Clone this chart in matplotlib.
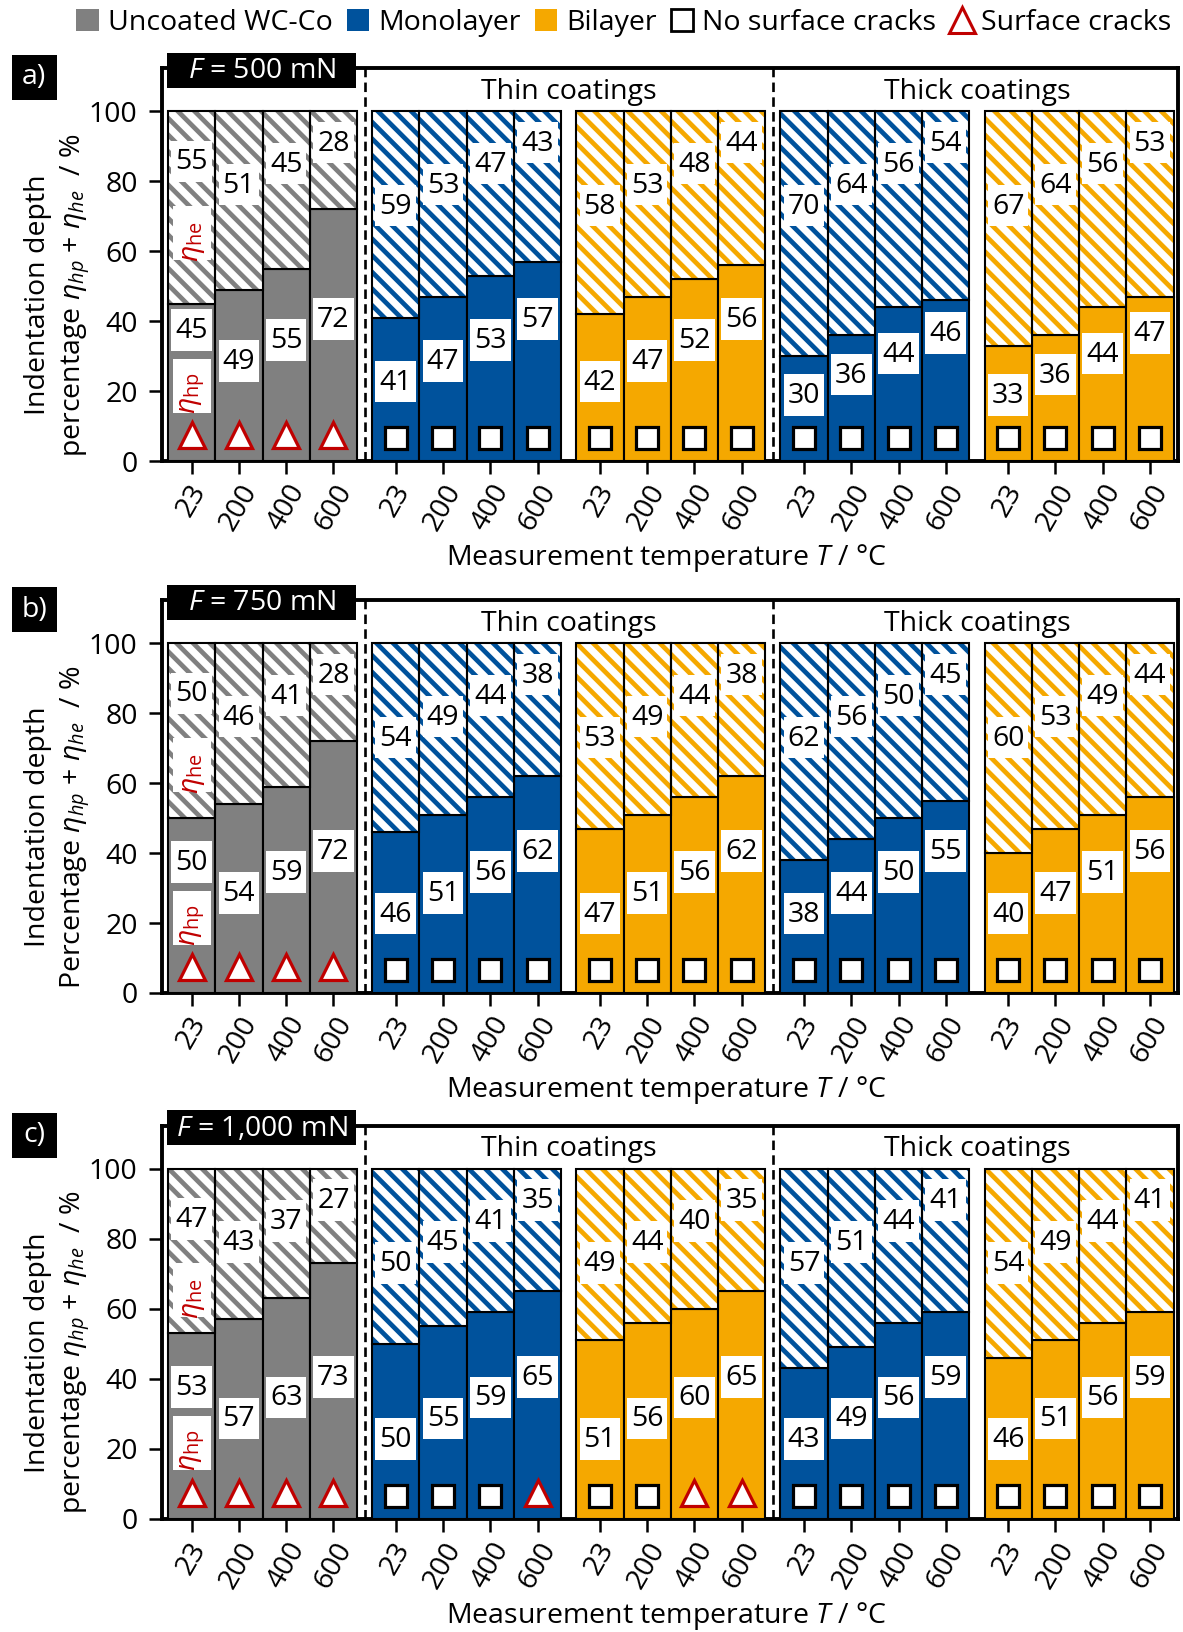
import matplotlib
matplotlib.use('Agg')
import matplotlib.pyplot as plt
from matplotlib.patches import Patch, Rectangle
from matplotlib.lines import Line2D

plt.rcParams['font.family'] = ['Open Sans', 'DejaVu Sans']
plt.rcParams['mathtext.fontset'] = 'custom'
plt.rcParams['mathtext.rm'] = 'Open Sans'
plt.rcParams['mathtext.it'] = 'Open Sans:italic'
plt.rcParams['mathtext.bf'] = 'Open Sans:bold'
plt.rcParams['hatch.linewidth'] = 3.4

# ---------------------------------------------------------------- data
temperatures = ['23', '200', '400', '600']
loads = ['500', '750', '1,000']
panel_tags = ['a)', 'b)', 'c)']
group_material = ['uncoated', 'mono', 'bi', 'mono', 'bi']   # thin: groups 1-2, thick: groups 3-4

# plastic share eta_hp (%) per group (uncoated, thin mono, thin bi, thick mono, thick bi)
eta_hp_500 = [[45, 49, 55, 72], [41, 47, 53, 57], [42, 47, 52, 56], [30, 36, 44, 46], [33, 36, 44, 47]]
eta_he_500 = [[55, 51, 45, 28], [59, 53, 47, 43], [58, 53, 48, 44], [70, 64, 56, 54], [67, 64, 56, 53]]
eta_hp_750 = [[50, 54, 59, 72], [46, 51, 56, 62], [47, 51, 56, 62], [38, 44, 50, 55], [40, 47, 51, 56]]
eta_he_750 = [[50, 46, 41, 28], [54, 49, 44, 38], [53, 49, 44, 38], [62, 56, 50, 45], [60, 53, 49, 44]]
eta_hp_1000 = [[53, 57, 63, 73], [50, 55, 59, 65], [51, 56, 60, 65], [43, 49, 56, 59], [46, 51, 56, 59]]
eta_he_1000 = [[47, 43, 37, 27], [50, 45, 41, 35], [49, 44, 40, 35], [57, 51, 44, 41], [54, 49, 44, 41]]

# 1 = surface cracks observed, 0 = no surface cracks
cracks_500 = [[1, 1, 1, 1], [0, 0, 0, 0], [0, 0, 0, 0], [0, 0, 0, 0], [0, 0, 0, 0]]
cracks_750 = [[1, 1, 1, 1], [0, 0, 0, 0], [0, 0, 0, 0], [0, 0, 0, 0], [0, 0, 0, 0]]
cracks_1000 = [[1, 1, 1, 1], [0, 0, 0, 1], [0, 0, 1, 1], [0, 0, 0, 0], [0, 0, 0, 0]]

eta_hp_all = [eta_hp_500, eta_hp_750, eta_hp_1000]
eta_he_all = [eta_he_500, eta_he_750, eta_he_1000]
cracks_all = [cracks_500, cracks_750, cracks_1000]

# ---------------------------------------------------------------- style / layout
GRAY, BLUE, ORANGE, RED = '#808080', '#00529c', '#f5a800', '#c00000'
solid_colors = {'uncoated': GRAY, 'mono': BLUE, 'bi': ORANGE}
FS = 20.5

W, H = 1183, 1632


def fx(px):
    return px / W


def fy(py):
    return 1 - py / H


group_pitch = 4.32
ytop = 112.3
ax_bottom_px = [461, 993, 1518.5]
ax_height_px = 393
ax_left_px, ax_width_px = 162, 1016

# vertical placement of the value boxes
hp_label_y = [22.7, 28.6, 34.6, 40.5]
hp_label_y_first_uncoated = 37.5
he_label_y = [73, 79, 85, 91]
he_label_y_first_uncoated = 85.6
thick_shift_500 = -3.9

fig = plt.figure(figsize=(W / 100, H / 100), dpi=100)


def value_box(ax, x, y, txt):
    ax.add_patch(Rectangle((x - 0.43, y - 5.95), 0.86, 11.9, facecolor='white',
                           edgecolor='none', zorder=6))
    ax.text(x, y - 0.3, txt, ha='center', va='center', fontsize=FS, zorder=7)


for p in range(3):
    top_px = ax_bottom_px[p] - ax_height_px
    ax = fig.add_axes([fx(ax_left_px), fy(ax_bottom_px[p]), ax_width_px / W, ax_height_px / H])
    ax.set_xlim(-0.127, 21.375)
    ax.set_ylim(0, ytop)

    hp_all, he_all, cr_all = eta_hp_all[p], eta_he_all[p], cracks_all[p]
    xticks = []
    for g in range(5):
        mat = group_material[g]
        col = solid_colors[mat]
        xs = [g * group_pitch + i + 0.5 for i in range(4)]
        xticks += xs
        hp = hp_all[g]
        he = he_all[g]
        ax.bar(xs, hp, width=1.0, color=col, edgecolor='black', linewidth=1.5, zorder=3)
        ax.bar(xs, he, bottom=hp, width=1.0, color='white', edgecolor=col,
               hatch='\\\\', linewidth=0, zorder=3)
        ax.bar(xs, he, bottom=hp, width=1.0, fill=False, edgecolor='black',
               linewidth=1.5, zorder=4)

        for i, x in enumerate(xs):
            yh = hp_label_y[i]
            ye = he_label_y[i]
            if p == 0 and g >= 3:
                yh += thick_shift_500
            if g == 0 and i == 0:
                yh = hp_label_y_first_uncoated
                ye = he_label_y_first_uncoated
            value_box(ax, x, yh, str(hp[i]))
            value_box(ax, x, ye, str(he[i]))
            if cr_all[g][i]:
                ax.plot(x, 7.4, marker='^', ms=19, mfc='white', mec=RED, mew=2.3,
                        ls='none', zorder=8)
            else:
                ax.plot(x, 6.5, marker='s', ms=16.5, mfc='white', mec='black', mew=2.3,
                        ls='none', zorder=8)

    # eta labels inside the first uncoated bar
    x0 = 0.5
    for yc, dy, txt in [(65.2, -2.4, r'$\eta_\mathrm{he}$'), (21.5, -2.0, r'$\eta_\mathrm{hp}$')]:
        ax.add_patch(Rectangle((x0 - 0.4, yc - 7.7), 0.8, 15.4, facecolor='white',
                               edgecolor='none', zorder=6))
        ax.text(x0 + 0.03, yc + dy, txt, rotation=90, ha='center', va='center', color=RED,
                fontsize=FS, zorder=7)

    # separators between uncoated / thin / thick blocks
    for xd in [4.16, 12.8]:
        ax.plot([xd, xd], [0, ytop], color='black', lw=1.9, ls=(0, (3.6, 2.0)), zorder=5)

    ax.text(8.48, 105.5, 'Thin coatings', ha='center', va='center', fontsize=FS)
    ax.text(17.12, 105.5, 'Thick coatings', ha='center', va='center', fontsize=FS)

    # load box
    ax.add_patch(Rectangle((-0.02, 106.6), 4.0, 10.0, facecolor='black', edgecolor='none',
                           clip_on=False, zorder=9))
    ax.text(1.98, 111.4, r'$F$ = ' + loads[p] + ' mN', ha='center', va='center',
            color='white', fontsize=FS, zorder=10, clip_on=False)

    ax.set_xticks(xticks)
    ax.set_xticklabels(temperatures * 5, rotation=60, ha='center', fontsize=FS)
    ax.set_yticks([0, 20, 40, 60, 80, 100])
    ax.tick_params(axis='y', labelsize=FS, length=9.5, width=1.8, pad=8)
    ax.tick_params(axis='x', length=9.5, width=1.8, pad=4)
    for s in ax.spines.values():
        s.set_linewidth(2.8)

    first = 'Percentage' if p == 1 else 'percentage'
    ax.text((58 - ax_left_px) / ax_width_px, 47.5 / ytop,
            'Indentation depth\n' + first + r' $\eta_{hp}$ + $\eta_{he}$  / %',
            transform=ax.transAxes, rotation=90, ha='center', va='center',
            multialignment='center', fontsize=FS, linespacing=1.25)

    fig.text(fx(666), fy(ax_bottom_px[p] + 97), r'Measurement temperature $T$ / °C',
             ha='center', va='center', fontsize=FS)

    # panel tag
    fig.add_artist(Rectangle((fx(11.5), fy(top_px + 32)), 45.5 / W, 45 / H,
                             transform=fig.transFigure, facecolor='black', edgecolor='none'))
    fig.text(fx(34), fy(top_px + 9.5), panel_tags[p], color='white', ha='center', va='center',
             fontsize=FS)

handles = [Patch(facecolor=GRAY, edgecolor='none'),
           Patch(facecolor=BLUE, edgecolor='none'),
           Patch(facecolor=ORANGE, edgecolor='none'),
           Patch(facecolor='white', edgecolor='black', linewidth=2),
           Line2D([], [], marker='^', ls='none', mfc='white', mec=RED, mew=2.2, ms=19)]
labels = ['Uncoated WC-Co', 'Monolayer', 'Bilayer', 'No surface cracks', 'Surface cracks']
fig.legend(handles, labels, loc='center', bbox_to_anchor=(fx(624), fy(23)), ncol=5,
           frameon=False, fontsize=FS, handlelength=0.8, handleheight=0.8,
           handletextpad=0.3, columnspacing=0.5, borderaxespad=0, borderpad=0)

fig.savefig('out.png', dpi=100)
